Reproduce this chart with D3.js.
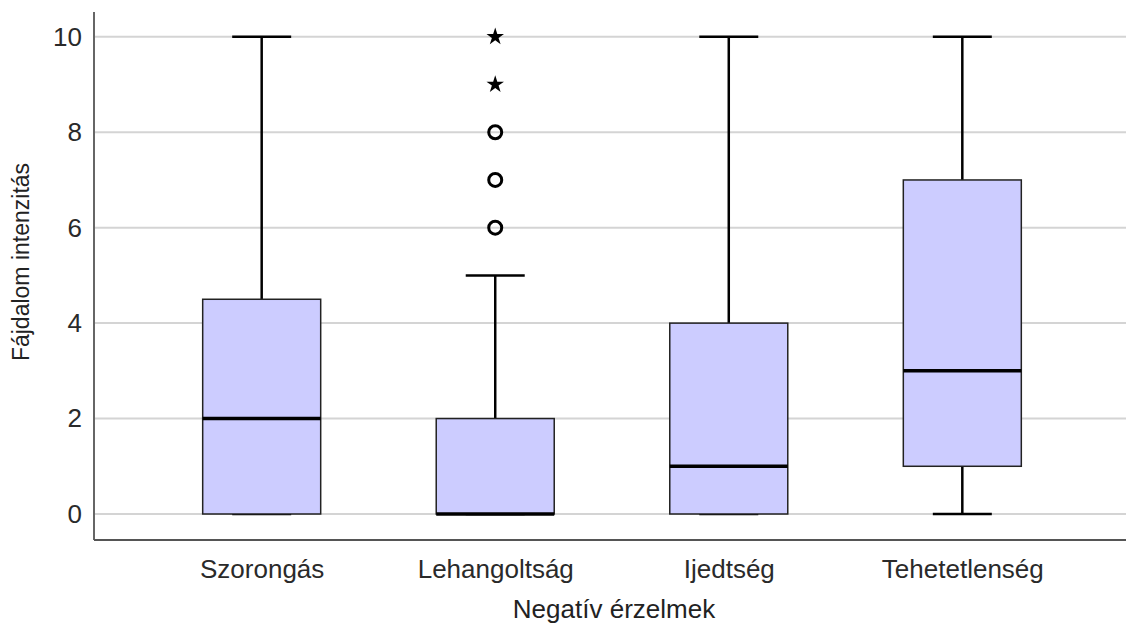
<!DOCTYPE html>
<html>
<head>
<meta charset="utf-8">
<script src="https://cdn.jsdelivr.net/npm/d3@7"></script>
<style>
  body { margin: 0; background: #fff; }
  text { font-family: "Liberation Sans", Arial, sans-serif; fill: #222; }
</style>
</head>
<body>
<div id="chart"></div>
<script>
const categories = ['Szorongás', 'Lehangoltság', 'Ijedtség', 'Tehetetlenség'];
const mins = [0, 0, 0, 0];
const q1s = [0, 0, 0, 1];
const medians = [2, 0, 1, 3];
const q3s = [4.5, 2, 4, 7];
const maxs = [10, 5, 10, 10];
// outliers (circles) and extremes (stars) per category
const outliers = [[], [6, 7, 8], [], []];
const extremes = [[], [9, 10], [], []];
const yTicks = [0, 2, 4, 6, 8, 10];

(function() {
  const width = 1126, height = 626;
  const plot = { left: 94, right: 1126, top: 12, bottom: 540 };

  const svg = d3.select('#chart').append('svg')
    .attr('width', width)
    .attr('height', height);

  const y = d3.scaleLinear().domain([-0.545, 10.52]).range([plot.bottom, plot.top]);
  const x = d3.scalePoint().domain(categories).range([plot.left, 1130]).padding(0.718);
  const boxW = 118;

  // gridlines
  svg.append('g')
    .selectAll('line')
    .data(yTicks)
    .enter().append('line')
      .attr('x1', plot.left).attr('x2', plot.right)
      .attr('y1', d => y(d)).attr('y2', d => y(d))
      .style('stroke', '#d4d4d4')
      .style('stroke-width', 2);

  // y axis
  const yAxis = svg.append('g')
    .attr('transform', `translate(${plot.left},0)`)
    .call(d3.axisLeft(y).tickValues(yTicks).tickSize(0).tickPadding(12));
  yAxis.select('.domain').remove();
  yAxis.selectAll('text')
    .style('font-size', '26px')
    .style('fill', '#2a2a2a');

  // axis lines
  svg.append('line')
    .attr('x1', plot.left).attr('x2', plot.left)
    .attr('y1', plot.top).attr('y2', plot.bottom)
    .style('stroke', '#666').style('stroke-width', 2);
  svg.append('line')
    .attr('x1', plot.left).attr('x2', plot.right)
    .attr('y1', plot.bottom).attr('y2', plot.bottom)
    .style('stroke', '#555').style('stroke-width', 2);

  // x axis labels
  const xAxis = svg.append('g')
    .attr('transform', `translate(0,${plot.bottom})`)
    .call(d3.axisBottom(x).tickSize(0).tickPadding(19.5));
  xAxis.select('.domain').remove();
  xAxis.selectAll('text')
    .style('font-size', '26px')
    .style('fill', '#2a2a2a');

  const stats = categories.map((c, i) => ({
    cat: c, min: mins[i], q1: q1s[i], med: medians[i], q3: q3s[i], max: maxs[i],
    out: outliers[i], ext: extremes[i]
  }));

  const g = svg.selectAll('.box')
    .data(stats)
    .enter().append('g')
    .attr('class', 'box');

  // whiskers
  g.append('line')
    .attr('x1', d => x(d.cat)).attr('x2', d => x(d.cat))
    .attr('y1', d => y(d.q3)).attr('y2', d => y(d.max))
    .style('stroke', '#000').style('stroke-width', 2.5);
  g.append('line')
    .attr('x1', d => x(d.cat)).attr('x2', d => x(d.cat))
    .attr('y1', d => y(d.q1)).attr('y2', d => y(d.min))
    .style('stroke', '#000').style('stroke-width', 2.5);
  g.append('line')
    .attr('x1', d => x(d.cat) - boxW / 4).attr('x2', d => x(d.cat) + boxW / 4)
    .attr('y1', d => y(d.max)).attr('y2', d => y(d.max))
    .style('stroke', '#000').style('stroke-width', 2.5);
  g.append('line')
    .attr('x1', d => x(d.cat) - boxW / 4).attr('x2', d => x(d.cat) + boxW / 4)
    .attr('y1', d => y(d.min)).attr('y2', d => y(d.min))
    .style('stroke', '#000').style('stroke-width', 2.5);

  // boxes
  g.append('rect')
    .attr('x', d => x(d.cat) - boxW / 2)
    .attr('width', boxW)
    .attr('y', d => y(d.q3))
    .attr('height', d => y(d.q1) - y(d.q3))
    .style('fill', '#ccccff')
    .style('stroke', '#222')
    .style('stroke-width', 1.5);

  // median
  g.append('line')
    .attr('x1', d => x(d.cat) - boxW / 2).attr('x2', d => x(d.cat) + boxW / 2)
    .attr('y1', d => y(d.med)).attr('y2', d => y(d.med))
    .style('stroke', '#000').style('stroke-width', 3.5);

  // outliers
  g.selectAll('.out')
    .data(d => d.out.map(v => ({ cat: d.cat, v: v })))
    .enter().append('circle')
    .attr('cx', d => x(d.cat)).attr('cy', d => y(d.v))
    .attr('r', 6.5)
    .style('fill', 'none')
    .style('stroke', '#000')
    .style('stroke-width', 3);

  // extremes
  const star = d3.symbol().type(d3.symbolStar).size(95);
  g.selectAll('.ext')
    .data(d => d.ext.map(v => ({ cat: d.cat, v: v })))
    .enter().append('path')
    .attr('d', star)
    .attr('transform', d => `translate(${x(d.cat)},${y(d.v)})`)
    .style('fill', '#000');

  // axis titles
  svg.append('text')
    .attr('transform', 'translate(29,262) rotate(-90)')
    .attr('text-anchor', 'middle')
    .style('font-size', '23px')
    .text('Fájdalom intenzitás');

  svg.append('text')
    .attr('x', 614).attr('y', 618)
    .attr('text-anchor', 'middle')
    .style('font-size', '26px')
    .text('Negatív érzelmek');
})();
</script>
</body>
</html>
